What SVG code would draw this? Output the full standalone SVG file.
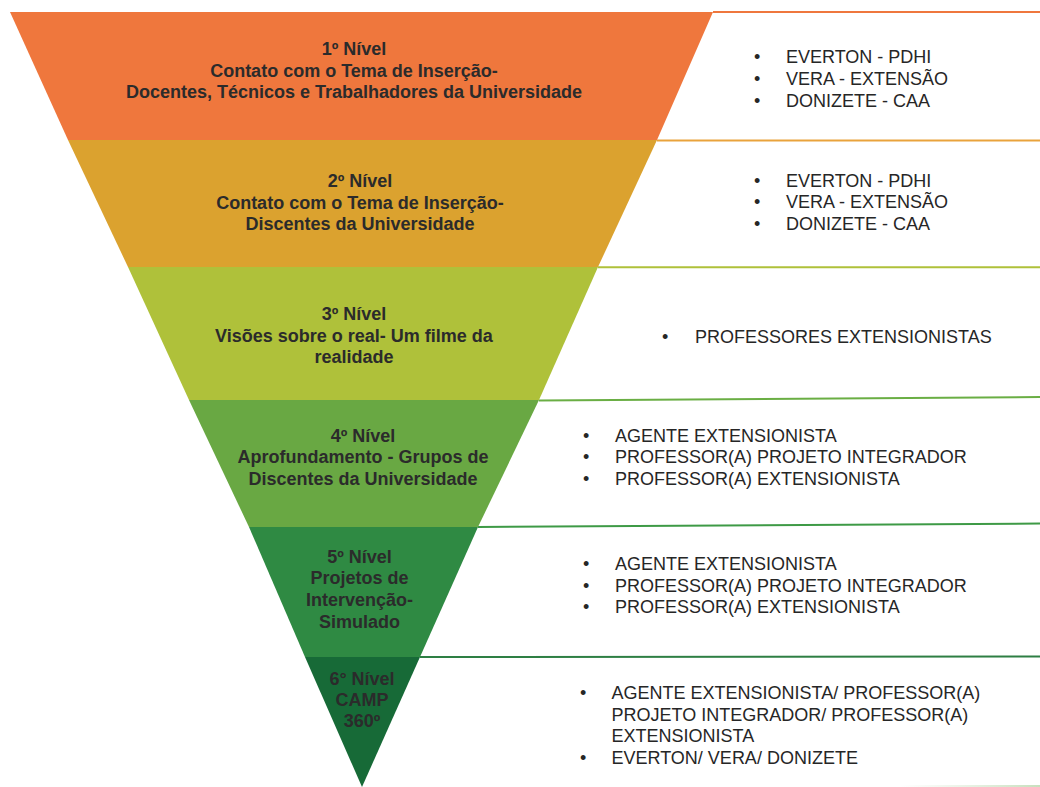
<svg xmlns="http://www.w3.org/2000/svg" width="1040" height="787" viewBox="0 0 1040 787">
<defs>
<style>
.lbl{font-family:"Liberation Sans",Arial,sans-serif;font-weight:bold;font-size:18px;fill:#2b2b2b;text-anchor:middle}
.lst{font-family:"Liberation Sans",Arial,sans-serif;font-size:18px;fill:#262626}
.sep{stroke-width:2;fill:none}
</style>
<linearGradient id="fade" x1="900" y1="0" x2="1040" y2="0" gradientUnits="userSpaceOnUse">
<stop offset="0" stop-color="#cfe3c6" stop-opacity="0"/>
<stop offset="1" stop-color="#b9d8ad" stop-opacity="0.8"/>
</linearGradient>
</defs>
<rect width="1040" height="787" fill="#ffffff"/>

<g id="connectors">
<line class="sep" x1="713" y1="12" x2="1040" y2="12" stroke="#EF773D"/>
<line class="sep" x1="657" y1="140.5" x2="1040" y2="140.5" stroke="#E9A33C"/>
<line class="sep" x1="598" y1="267.3" x2="1040" y2="267.3" stroke="#AFC13A"/>
<line class="sep" x1="539" y1="400.5" x2="1040" y2="397" stroke="#6AAE44"/>
<line class="sep" x1="478" y1="527" x2="1040" y2="523.5" stroke="#3E9A46"/>
<line class="sep" x1="420" y1="657" x2="1040" y2="656.5" stroke="#2E7F44"/>
<line x1="900" y1="786" x2="1040" y2="786" stroke="url(#fade)" stroke-width="2"/>
</g>

<g id="level1">
<polygon points="10,12 713,12 657,140 68,140" fill="#EF773D"/>
<text class="lbl" x="354" y="55">1º Nível</text>
<text class="lbl" x="354" y="76.7">Contato com o Tema de Inserção-</text>
<text class="lbl" x="354" y="98.3">Docentes, Técnicos e Trabalhadores da Universidade</text>
<text class="lst" x="754" y="63.3">•</text><text class="lst" x="786" y="63.3">EVERTON - PDHI</text>
<text class="lst" x="754" y="85">•</text><text class="lst" x="786" y="85">VERA - EXTENSÃO</text>
<text class="lst" x="754" y="106.7">•</text><text class="lst" x="786" y="106.7">DONIZETE - CAA</text>
</g>

<g id="level2">
<polygon points="68,140 657,140 598,267 128,267" fill="#DBA22F"/>
<text class="lbl" x="360" y="187">2º Nível</text>
<text class="lbl" x="360" y="208.7">Contato com o Tema de Inserção-</text>
<text class="lbl" x="360" y="230.3">Discentes da Universidade</text>
<text class="lst" x="754" y="186.7">•</text><text class="lst" x="786" y="186.7">EVERTON - PDHI</text>
<text class="lst" x="754" y="208.3">•</text><text class="lst" x="786" y="208.3">VERA - EXTENSÃO</text>
<text class="lst" x="754" y="230">•</text><text class="lst" x="786" y="230">DONIZETE - CAA</text>
</g>

<g id="level3">
<polygon points="128,267 598,267 539,400 189,400" fill="#AFC13A"/>
<text class="lbl" x="354" y="320">3º Nível</text>
<text class="lbl" x="354" y="341.7">Visões sobre o real- Um filme da</text>
<text class="lbl" x="354" y="363">realidade</text>
<text class="lst" x="662" y="343.3">•</text><text class="lst" x="695" y="343.3">PROFESSORES EXTENSIONISTAS</text>
</g>

<g id="level4">
<polygon points="189,400 539,400 478,527 249,527" fill="#69A843"/>
<text class="lbl" x="363" y="441.7">4º Nível</text>
<text class="lbl" x="363" y="463.3">Aprofundamento - Grupos de</text>
<text class="lbl" x="363" y="485">Discentes da Universidade</text>
<text class="lst" x="583" y="441.7">•</text><text class="lst" x="615" y="441.7">AGENTE EXTENSIONISTA</text>
<text class="lst" x="583" y="463.3">•</text><text class="lst" x="615" y="463.3">PROFESSOR(A) PROJETO INTEGRADOR</text>
<text class="lst" x="583" y="485">•</text><text class="lst" x="615" y="485">PROFESSOR(A) EXTENSIONISTA</text>
</g>

<g id="level5">
<polygon points="249,527 478,527 420,657 305,657" fill="#2F8A43"/>
<text class="lbl" x="359.5" y="562.7">5º Nível</text>
<text class="lbl" x="359.5" y="584">Projetos de</text>
<text class="lbl" x="359.5" y="606">Intervenção-</text>
<text class="lbl" x="359.5" y="627.5">Simulado</text>
<text class="lst" x="583" y="570">•</text><text class="lst" x="615" y="570">AGENTE EXTENSIONISTA</text>
<text class="lst" x="583" y="591.7">•</text><text class="lst" x="615" y="591.7">PROFESSOR(A) PROJETO INTEGRADOR</text>
<text class="lst" x="583" y="613.3">•</text><text class="lst" x="615" y="613.3">PROFESSOR(A) EXTENSIONISTA</text>
</g>

<g id="level6">
<polygon points="305,657 420,657 362,787" fill="#176A37"/>
<text class="lbl" x="362" y="685">6° Nível</text>
<text class="lbl" x="362" y="706">CAMP</text>
<text class="lbl" x="362" y="727">360º</text>
<text class="lst" x="580" y="699">•</text><text class="lst" x="611.5" y="699">AGENTE EXTENSIONISTA/ PROFESSOR(A)</text>
<text class="lst" x="611.5" y="720.5">PROJETO INTEGRADOR/ PROFESSOR(A)</text>
<text class="lst" x="611.5" y="742">EXTENSIONISTA</text>
<text class="lst" x="580" y="763.5">•</text><text class="lst" x="611.5" y="763.5">EVERTON/ VERA/ DONIZETE</text>
</g>
</svg>
